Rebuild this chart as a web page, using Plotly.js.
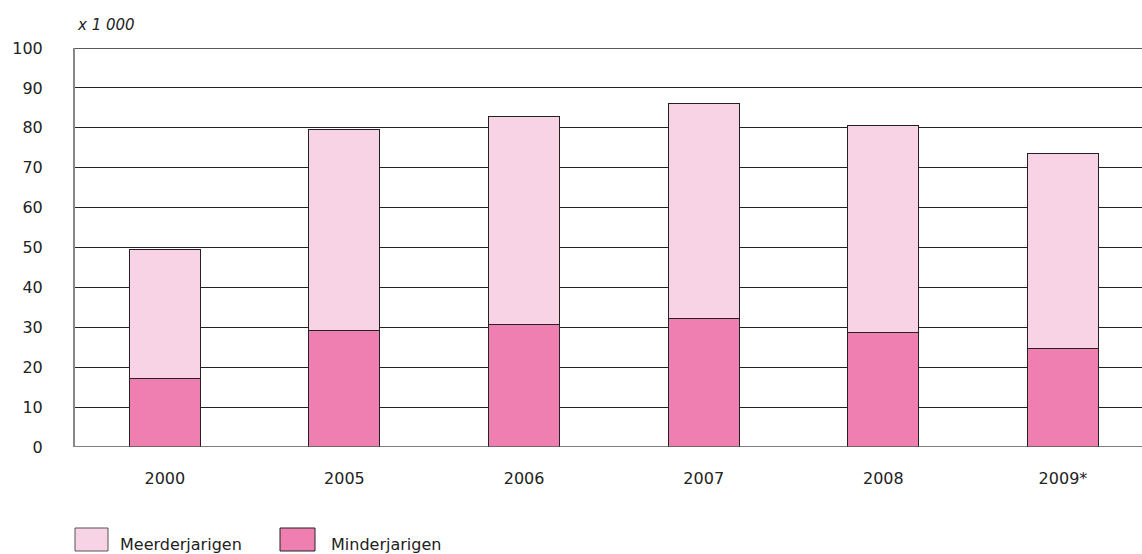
<!DOCTYPE html>
<html>
<head>
<meta charset="utf-8">
<script src="https://cdn.plot.ly/plotly-3.0.1.min.js"></script>
<style>html,body{margin:0;padding:0;background:#fff;}#chart{width:1142px;height:554px;}</style>
</head>
<body>
<div id="chart"></div>
<script>
const categories = ['2000', '2005', '2006', '2007', '2008', '2009*'];
const minderjarigen = [17.2, 29.3, 30.7, 32.3, 28.6, 24.6];
const meerderjarigen = [32.3, 50.3, 52.1, 53.7, 51.9, 48.9];
const seriesNames = ['Meerderjarigen', 'Minderjarigen'];
const yTicks = [0, 10, 20, 30, 40, 50, 60, 70, 80, 90, 100];
const unitLabel = 'x 1 000';

const colLight = '#f8d3e6';
const colDark = '#ee7fb0';
const font = "'DejaVu Sans', 'Open Sans', sans-serif";

const xIdx = categories.map((c, i) => i);

const traces = [
  {type: 'bar', name: seriesNames[1], x: xIdx, y: minderjarigen, width: 0.395,
   marker: {color: colDark, line: {color: '#222', width: 1}}, showlegend: false, hoverinfo: 'y'},
  {type: 'bar', name: seriesNames[0], x: xIdx, y: meerderjarigen, width: 0.395,
   marker: {color: colLight, line: {color: '#222', width: 1}}, showlegend: false, hoverinfo: 'y'}
];

const layout = {
  width: 1142, height: 554,
  margin: {l: 75, r: 0, t: 48, b: 107},
  barmode: 'stack',
  paper_bgcolor: '#fff', plot_bgcolor: '#fff',
  font: {family: font, size: 16, color: '#222'},
  xaxis: {
    range: [-0.5, 5.44], tickvals: xIdx, ticktext: categories,
    showgrid: false, zeroline: false, showline: false, ticks: '',
    ticklabelstandoff: 20, fixedrange: true
  },
  yaxis: {
    range: [0, 100], tickvals: yTicks, ticktext: yTicks.map(String),
    showgrid: true, gridcolor: '#222', gridwidth: 1,
    zeroline: false, showline: true, linecolor: '#888', linewidth: 2,
    ticks: '', ticklabelstandoff: 27, fixedrange: true
  },
  shapes: [
    {type: 'line', xref: 'paper', yref: 'y', x0: 0, x1: 1, y0: 0, y1: 0, line: {color: '#555', width: 1.5}, layer: 'above'},
    {type: 'line', xref: 'paper', yref: 'y', x0: 0, x1: 1, y0: 100, y1: 100, line: {color: '#222', width: 1.5}, layer: 'below'},
    {type: 'rect', xref: 'paper', yref: 'paper', x0: 0, x1: 33/1067, y0: -81/399, y1: -104/399, fillcolor: colLight, line: {color: '#555', width: 1}},
    {type: 'rect', xref: 'paper', yref: 'paper', x0: 205/1067, x1: 240/1067, y0: -81/399, y1: -104/399, fillcolor: colDark, line: {color: '#222', width: 1}}
  ],
  annotations: [
    {xref: 'paper', yref: 'paper', x: 0, y: 1, xanchor: 'left', yanchor: 'bottom', yshift: 12, showarrow: false,
     text: '<i>' + unitLabel + '</i>', font: {family: font, size: 15, color: '#222'}},
    {xref: 'paper', yref: 'paper', x: 43/1067, y: -97/399, xanchor: 'left', yanchor: 'middle', showarrow: false,
     text: seriesNames[0], font: {family: font, size: 16, color: '#222'}},
    {xref: 'paper', yref: 'paper', x: 254/1067, y: -97/399, xanchor: 'left', yanchor: 'middle', showarrow: false,
     text: seriesNames[1], font: {family: font, size: 16, color: '#222'}}
  ]
};

Plotly.newPlot('chart', traces, layout, {displayModeBar: false, staticPlot: true});
</script>
</body>
</html>
